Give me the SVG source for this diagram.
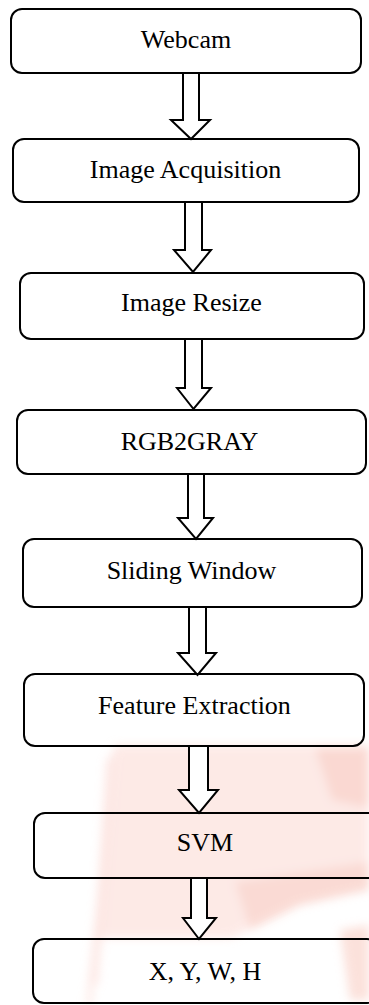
<svg xmlns="http://www.w3.org/2000/svg" width="369" height="1005" viewBox="0 0 369 1005">
  <style>
    .box { fill: none; stroke: #000; stroke-width: 2; }
    .arrow { fill: #fff; stroke: #000; stroke-width: 2; stroke-linejoin: miter; }
    .label { font-family: "Liberation Serif", "Times New Roman", serif; font-size: 26px; fill: #000; text-anchor: middle; }
  </style>
  <defs>
    <filter id="soft" x="-10%" y="-10%" width="120%" height="120%">
      <feGaussianBlur stdDeviation="5"/>
    </filter>
  </defs>
  <rect width="369" height="1005" fill="#fff"/>

  <!-- faint background mark, lower right -->
  <g id="backdrop" filter="url(#soft)" opacity="0.5">
    <polygon points="114,745 369,745 369,878 318,890 262,922 232,938 98,938 92,1005 86,1005" fill="#fcd6cf"/>
    <polygon points="106,760 116,752 98,985 92,985" fill="#f9c3ba" opacity="0.7"/>
    <polygon points="315,748 369,748 369,808 332,800" fill="#f6b3a6"/>
    <polygon points="235,882 369,862 369,890 300,905 250,930" fill="#f6b7aa"/>
    <polygon points="340,930 369,925 369,1000 350,1000" fill="#f8c4b8"/>
  </g>

  <g id="connectors">
    <polygon class="arrow" points="183,73 199,73 199,120 210,120 191,139 171,120 183,120"/>
    <polygon class="arrow" points="185,202 202,202 202,250 211,250 193,272 174,250 185,250"/>
    <polygon class="arrow" points="185,339 202,339 202,388 211,388 193.5,409 177,388 185,388"/>
    <polygon class="arrow" points="188,474 204,474 204,518 213,518 196,539 178,518 188,518"/>
    <polygon class="arrow" points="189,607 206,607 206,653 216,653 197.5,675 178,653 189,653"/>
    <polygon class="arrow" points="189,746 208,746 208,790 218,790 199,813 179,790 189,790"/>
    <polygon class="arrow" points="191,878 207,878 207,918 216,918 199,939 183,918 191,918"/>
  </g>

  <g id="nodes">
    <g id="webcam">
      <rect class="box" x="11" y="9" width="350" height="64" rx="11"/>
      <text class="label" x="186" y="48">Webcam</text>
    </g>
    <g id="image-acquisition">
      <rect class="box" x="13" y="139" width="346" height="63" rx="11"/>
      <text class="label" x="185.5" y="178">Image Acquisition</text>
    </g>
    <g id="image-resize">
      <rect class="box" x="20" y="273" width="344" height="66" rx="11"/>
      <text class="label" x="191.5" y="311">Image Resize</text>
    </g>
    <g id="rgb2gray">
      <rect class="box" x="17" y="410" width="349" height="64" rx="11"/>
      <text class="label" x="189.5" y="450">RGB2GRAY</text>
    </g>
    <g id="sliding-window">
      <rect class="box" x="23" y="539" width="339" height="68" rx="11"/>
      <text class="label" x="191.5" y="579">Sliding Window</text>
    </g>
    <g id="feature-extraction">
      <rect class="box" x="24" y="674" width="340" height="72" rx="11"/>
      <text class="label" x="194.5" y="714">Feature Extraction</text>
    </g>
    <g id="svm">
      <rect class="box" x="34" y="813" width="345" height="65" rx="11"/>
      <text class="label" x="205" y="851">SVM</text>
    </g>
    <g id="xywh">
      <rect class="box" x="33" y="939" width="345" height="64" rx="11"/>
      <text class="label" x="205" y="980">X, Y, W, H</text>
    </g>
  </g>
</svg>
